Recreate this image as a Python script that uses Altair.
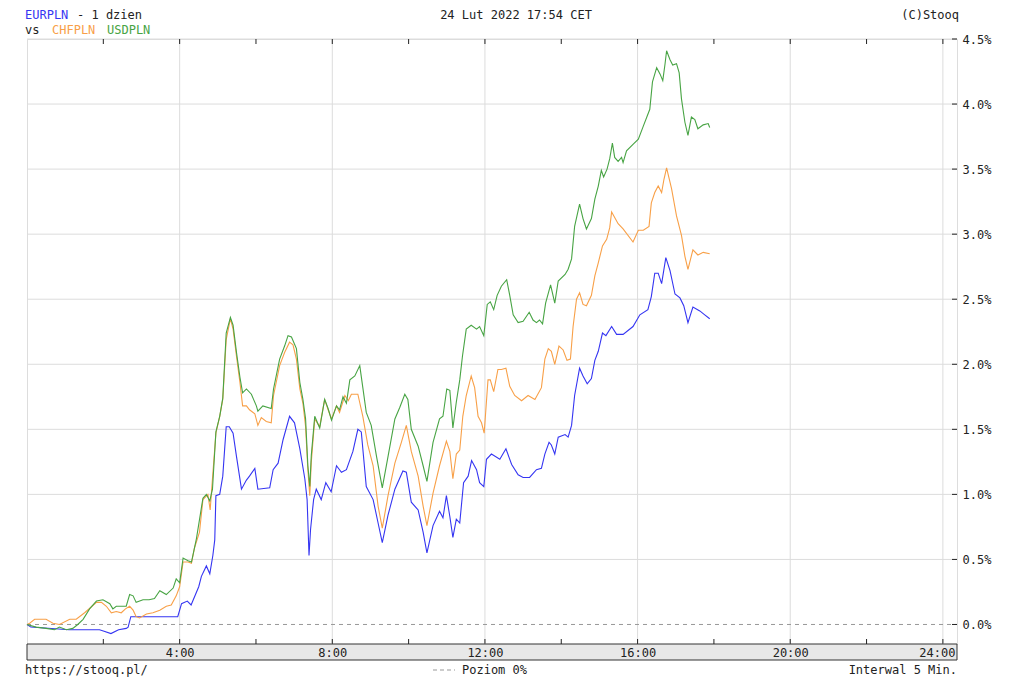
import altair as alt
import pandas as pd

# ---------------- data (hours since 0:00, % change) ----------------
eur_t = [0, 0.1, 1.1, 1.9, 2.0, 2.2, 2.4, 2.6, 2.65, 2.72, 3.0, 3.5, 3.95, 4.05, 4.2, 4.3,
         4.5, 4.57, 4.7, 4.79, 4.87, 4.92, 4.95, 5.05, 5.13, 5.22, 5.3, 5.4, 5.49, 5.62,
         5.75, 5.83, 5.97, 6.05, 6.36, 6.45, 6.58, 6.71, 6.88, 7.01, 7.15, 7.28, 7.34,
         7.39, 7.43, 7.51, 7.58, 7.71, 7.83, 7.97, 8.11, 8.24, 8.37, 8.54, 8.67, 8.76,
         8.89, 9.07, 9.2, 9.31, 9.46, 9.64, 9.85, 9.94, 10.07, 10.25, 10.38, 10.48,
         10.64, 10.81, 10.9, 10.99, 11.08, 11.16, 11.25, 11.34, 11.44, 11.56, 11.65,
         11.78, 11.86, 11.97, 12.04, 12.17, 12.39, 12.55, 12.7, 12.87, 13.0, 13.17,
         13.35, 13.48, 13.57, 13.68, 13.74, 13.83, 13.92, 14.1, 14.18, 14.27, 14.35,
         14.48, 14.57, 14.68, 14.79, 14.88, 14.97, 15.08, 15.17, 15.32, 15.45, 15.62,
         15.88, 16.06, 16.27, 16.36, 16.45, 16.54, 16.63, 16.74, 16.85, 16.98, 17.11,
         17.21, 17.32, 17.45, 17.63, 17.76, 17.89]
eur_v = [0.0, -0.02, -0.04, -0.04, -0.05, -0.07, -0.04, -0.03, -0.02, 0.06, 0.06, 0.06, 0.06,
         0.16, 0.18, 0.15, 0.29, 0.37, 0.45, 0.39, 0.53, 0.65, 0.99, 1.0, 1.14, 1.52, 1.52,
         1.47, 1.29, 1.04, 1.11, 1.14, 1.20, 1.04, 1.05, 1.19, 1.24, 1.42, 1.60, 1.55, 1.35,
         1.12, 0.96, 0.53, 0.73, 0.96, 1.04, 0.96, 1.09, 1.02, 1.22, 1.17, 1.19, 1.33, 1.50,
         1.48, 1.06, 0.96, 0.78, 0.63, 0.84, 1.04, 1.18, 1.17, 0.94, 0.88, 0.71, 0.55, 0.76,
         0.87, 0.82, 0.99, 0.83, 0.67, 0.81, 0.78, 1.09, 1.14, 1.26, 1.19, 1.09, 1.06, 1.27,
         1.31, 1.27, 1.35, 1.23, 1.15, 1.13, 1.13, 1.19, 1.20, 1.31, 1.40, 1.38, 1.31, 1.44,
         1.46, 1.44, 1.53, 1.76, 1.97, 1.91, 1.85, 1.89, 2.03, 2.10, 2.24, 2.22, 2.29, 2.23,
         2.23, 2.29, 2.38, 2.42, 2.52, 2.70, 2.70, 2.62, 2.82, 2.72, 2.54, 2.51, 2.45, 2.32,
         2.44, 2.41, 2.38, 2.35]

chf_t = [0, 0.07, 0.2, 0.5, 0.68, 0.85, 1.12, 1.29, 1.51, 1.82, 1.95, 2.08, 2.21, 2.34, 2.47,
         2.58, 2.69, 2.78, 2.86, 2.95, 3.13, 3.3, 3.48, 3.65, 3.78, 3.91, 4.0, 4.09, 4.22,
         4.31, 4.39, 4.52, 4.61, 4.74, 4.8, 4.86, 4.95, 5.05, 5.13, 5.22, 5.33, 5.40, 5.49,
         5.58, 5.65, 5.75, 5.83, 5.97, 6.05, 6.14, 6.27, 6.4, 6.46, 6.62, 6.75, 6.88, 6.97,
         7.06, 7.15, 7.23, 7.3, 7.36, 7.41, 7.45, 7.54, 7.67, 7.8, 7.89, 7.98, 8.11, 8.19,
         8.33, 8.42, 8.5, 8.67, 8.8, 8.93, 9.07, 9.2, 9.31, 9.46, 9.64, 9.81, 9.94, 10.07,
         10.25, 10.38, 10.48, 10.64, 10.81, 10.99, 11.08, 11.16, 11.25, 11.34, 11.42, 11.51,
         11.64, 11.73, 11.82, 11.91, 11.98, 12.08, 12.14, 12.23, 12.34, 12.43, 12.55, 12.65,
         12.78, 12.96, 13.13, 13.31, 13.48, 13.57, 13.66, 13.74, 13.83, 13.94, 14.05, 14.15,
         14.24, 14.31, 14.4, 14.48, 14.57, 14.66, 14.79, 14.88, 14.97, 15.08, 15.19, 15.27,
         15.32, 15.49, 15.62, 15.88, 16.02, 16.15, 16.3, 16.36, 16.45, 16.54, 16.63, 16.69,
         16.76, 16.89, 17.02, 17.15, 17.24, 17.32, 17.45, 17.58, 17.72, 17.89]
chf_v = [0.0, 0.01, 0.04, 0.04, 0.01, 0.0, 0.04, 0.04, 0.09, 0.17, 0.17, 0.14, 0.09, 0.10,
         0.09, 0.12, 0.14, 0.11, 0.06, 0.05, 0.08, 0.09, 0.11, 0.14, 0.15, 0.22, 0.29, 0.48,
         0.48, 0.47, 0.59, 0.71, 0.96, 1.0, 0.88, 1.12, 1.47, 1.60, 1.73, 2.19, 2.35, 2.27,
         2.06, 1.86, 1.68, 1.68, 1.65, 1.62, 1.53, 1.59, 1.56, 1.55, 1.76, 1.99, 2.09, 2.17,
         2.15, 2.04, 1.81, 1.70, 1.52, 1.19, 0.99, 1.25, 1.58, 1.52, 1.73, 1.65, 1.58, 1.68,
         1.63, 1.76, 1.72, 1.77, 1.77, 1.60, 1.38, 1.22, 0.91, 0.74, 0.99, 1.24, 1.40, 1.53,
         1.33, 1.14, 0.91, 0.76, 1.01, 1.22, 1.41, 1.33, 1.12, 1.31, 1.34, 1.60, 1.76, 1.91,
         1.82, 1.60, 1.55, 1.47, 1.88, 1.88, 1.79, 1.96, 1.96, 1.97, 1.83, 1.76, 1.72, 1.76,
         1.73, 1.82, 2.04, 2.12, 2.10, 2.00, 2.14, 2.11, 2.03, 2.04, 2.29, 2.50, 2.55, 2.46,
         2.45, 2.53, 2.68, 2.78, 2.91, 2.96, 3.05, 3.17, 3.08, 3.04, 2.94, 3.03, 3.03, 3.06,
         3.24, 3.32, 3.37, 3.32, 3.42, 3.51, 3.35, 3.14, 2.99, 2.83, 2.73, 2.88, 2.84, 2.86,
         2.85]

usd_t = [0, 0.24, 0.5, 0.72, 0.85, 1.03, 1.2, 1.33, 1.47, 1.64, 1.82, 1.99, 2.17, 2.25, 2.34,
         2.43, 2.6, 2.69, 2.78, 2.86, 3.04, 3.2, 3.34, 3.48, 3.65, 3.83, 3.91, 4.0, 4.09,
         4.22, 4.31, 4.44, 4.61, 4.7, 4.79, 4.86, 4.95, 5.05, 5.13, 5.22, 5.33, 5.40, 5.49,
         5.58, 5.65, 5.75, 5.88, 6.01, 6.05, 6.18, 6.4, 6.46, 6.62, 6.75, 6.84, 6.93, 7.06,
         7.15, 7.23, 7.3, 7.36, 7.41, 7.45, 7.54, 7.67, 7.8, 7.89, 7.98, 8.11, 8.19, 8.28,
         8.37, 8.46, 8.59, 8.72, 8.8, 8.89, 9.02, 9.16, 9.31, 9.46, 9.64, 9.77, 9.9, 9.98,
         10.07, 10.25, 10.38, 10.48, 10.64, 10.81, 10.9, 11.0, 11.08, 11.16, 11.25, 11.34,
         11.41, 11.51, 11.64, 11.78, 11.86, 11.97, 12.06, 12.14, 12.23, 12.32, 12.43, 12.57,
         12.65, 12.74, 12.87, 13.0, 13.16, 13.26, 13.35, 13.43, 13.51, 13.59, 13.72, 13.83,
         13.92, 14.1, 14.18, 14.27, 14.35, 14.48, 14.57, 14.66, 14.79, 14.88, 14.97, 15.05,
         15.11, 15.2, 15.27, 15.34, 15.4, 15.49, 15.58, 15.62, 15.71, 15.88, 16.02, 16.15,
         16.32, 16.39, 16.5, 16.59, 16.66, 16.72, 16.76, 16.85, 16.92, 17.02, 17.09, 17.15,
         17.24, 17.32, 17.41, 17.5, 17.58, 17.72, 17.85, 17.89]
usd_v = [0.0, -0.02, -0.03, -0.04, -0.02, -0.04, -0.03, 0.0, 0.04, 0.12, 0.18, 0.19, 0.16,
         0.12, 0.14, 0.14, 0.14, 0.23, 0.22, 0.17, 0.19, 0.19, 0.20, 0.26, 0.23, 0.28, 0.35,
         0.32, 0.51, 0.49, 0.48, 0.66, 0.97, 1.0, 0.95, 1.04, 1.48, 1.60, 1.74, 2.24, 2.36,
         2.30, 2.09, 1.90, 1.78, 1.81, 1.77, 1.68, 1.64, 1.68, 1.66, 1.81, 2.04, 2.14, 2.22,
         2.21, 2.12, 1.86, 1.73, 1.58, 1.22, 1.06, 1.30, 1.60, 1.51, 1.73, 1.66, 1.57, 1.68,
         1.65, 1.75, 1.70, 1.88, 1.91, 1.99, 1.82, 1.63, 1.53, 1.29, 1.05, 1.29, 1.58, 1.67,
         1.77, 1.73, 1.50, 1.37, 1.22, 1.10, 1.40, 1.58, 1.60, 1.81, 1.80, 1.51, 1.71, 1.88,
         2.06, 2.27, 2.30, 2.27, 2.29, 2.22, 2.46, 2.48, 2.42, 2.53, 2.60, 2.65, 2.53, 2.38,
         2.32, 2.33, 2.40, 2.34, 2.32, 2.34, 2.31, 2.47, 2.61, 2.47, 2.64, 2.69, 2.73, 2.81,
         3.06, 3.23, 3.12, 3.04, 3.12, 3.27, 3.37, 3.49, 3.44, 3.50, 3.58, 3.70, 3.59, 3.56,
         3.59, 3.55, 3.64, 3.69, 3.73, 3.83, 3.96, 4.17, 4.28, 4.23, 4.18, 4.31, 4.41, 4.34,
         4.30, 4.31, 4.24, 4.04, 3.86, 3.76, 3.90, 3.88, 3.81, 3.84, 3.85, 3.82]

x_labels = [4, 8, 12, 16, 20, 24]
x_minor = [2, 4, 6, 8, 10, 12, 14, 16, 18, 20, 22, 24]
y_ticks = [0.0, 0.5, 1.0, 1.5, 2.0, 2.5, 3.0, 3.5, 4.0, 4.5]
y_grid = [0.5, 1.0, 1.5, 2.0, 2.5, 3.0, 3.5, 4.0, 4.5]

# ---------------- layout ----------------
W, H = 930, 605
FONT = "DejaVu Sans Mono"
TXT = "#222222"
C_EUR, C_CHF, C_USD = "#3535f2", "#f8a048", "#48a444"

xs = alt.Scale(domain=[0, 24.37], nice=False, zero=False)
ys = alt.Scale(domain=[-0.15, 4.5], nice=False, zero=False)

x_axis = alt.Axis(
    values=x_labels, labelExpr="datum.value + ':00'", grid=False, ticks=False, domain=False,
    labelPadding=3, labelFont=FONT, labelFontSize=12, labelColor=TXT, title=None,
    zindex=2, labelOverlap=False, labelFlush=False, labelBound=False,
    labelOffset={"condition": {"test": "datum.value == 24", "value": -6}, "value": 0},
)
y_axis = alt.Axis(
    orient="right", values=y_ticks, labelExpr="format(datum.value, '.1f') + '%'",
    grid=False, ticks=False, domain=False, labelPadding=5, labelFont=FONT,
    labelFontSize=12, labelColor=TXT, title=None, zindex=2,
)

one = alt.Data(values=[{}])


def X(field):
    return alt.X(field, scale=xs, axis=x_axis)


def Y(field):
    return alt.Y(field, scale=ys, axis=y_axis)


def txt(s, x, y, color=TXT, align="left"):
    return alt.Chart(one).mark_text(
        text=s, font=FONT, fontSize=12, color=color, align=align, baseline="middle"
    ).encode(x=alt.value(x), y=alt.value(y))


band = alt.Chart(one).mark_rect(fill="#e8e8e8", stroke="#333333", strokeWidth=1).encode(
    x=alt.value(0), x2=alt.value(W), y=alt.value(H), y2=alt.value(H + 16)
)

grid_v = alt.Chart(pd.DataFrame({"x": x_labels})).mark_rule(color="#dcdcdc", strokeWidth=1).encode(
    x=X("x:Q"), y=alt.value(0), y2=alt.value(H)
)
grid_h = alt.Chart(pd.DataFrame({"y": y_grid})).mark_rule(color="#dcdcdc", strokeWidth=1).encode(
    y=Y("y:Q"), x=alt.value(0), x2=alt.value(W)
)
zero = alt.Chart(pd.DataFrame({"y": [0.0]})).mark_rule(
    color="#999999", strokeWidth=1, strokeDash=[4, 4]
).encode(y=Y("y:Q"), x=alt.value(0), x2=alt.value(W))

line_eur = alt.Chart(pd.DataFrame({"t": eur_t, "v": eur_v})).mark_line(
    color=C_EUR, strokeWidth=1.1
).encode(x=X("t:Q"), y=Y("v:Q"))
line_chf = alt.Chart(pd.DataFrame({"t": chf_t, "v": chf_v})).mark_line(
    color=C_CHF, strokeWidth=1.1
).encode(x=X("t:Q"), y=Y("v:Q"))
line_usd = alt.Chart(pd.DataFrame({"t": usd_t, "v": usd_v})).mark_line(
    color=C_USD, strokeWidth=1.1
).encode(x=X("t:Q"), y=Y("v:Q"))

tick_top = alt.Chart(pd.DataFrame({"x": x_minor})).mark_rule(color="#222222").encode(
    x=X("x:Q"), y=alt.value(0), y2=alt.value(5)
)
tick_bot = alt.Chart(pd.DataFrame({"x": x_minor})).mark_rule(color="#222222").encode(
    x=X("x:Q"), y=alt.value(H - 5), y2=alt.value(H)
)
tick_right = alt.Chart(pd.DataFrame({"y": y_ticks})).mark_rule(color="#222222").encode(
    y=Y("y:Q"), x=alt.value(W - 5), x2=alt.value(W)
)

legend_dash = alt.Chart(one).mark_rule(color="#999999", strokeDash=[4, 3]).encode(
    x=alt.value(406), x2=alt.value(428), y=alt.value(631)
)

texts = [
    txt("EURPLN", -2, -24, C_EUR),
    txt("- 1 dzien", 50, -24),
    txt("vs", -2, -9),
    txt("CHFPLN", 25, -9, C_CHF),
    txt("USDPLN", 80, -9, C_USD),
    txt("24 Lut 2022 17:54 CET", 489, -24, align="center"),
    txt("(C)Stooq", 932, -24, align="right"),
    txt("https://stooq.pl/", -2, 631),
    txt("Poziom 0%", 435, 631),
    txt("Interwal 5 Min.", 930, 631, align="right"),
]

chart = alt.layer(
    band, grid_v, grid_h, zero, line_eur, line_chf, line_usd,
    tick_top, tick_bot, tick_right, legend_dash, *texts
).properties(
    width=W, height=H,
    autosize=alt.AutoSizeParams(type="none"),
    padding={"left": 19, "top": 31, "right": 50, "bottom": 33},
).configure_view(stroke="#222222", strokeWidth=1).configure(background="white")

chart.save("out.html", embed_options={"renderer": "svg", "actions": False})
